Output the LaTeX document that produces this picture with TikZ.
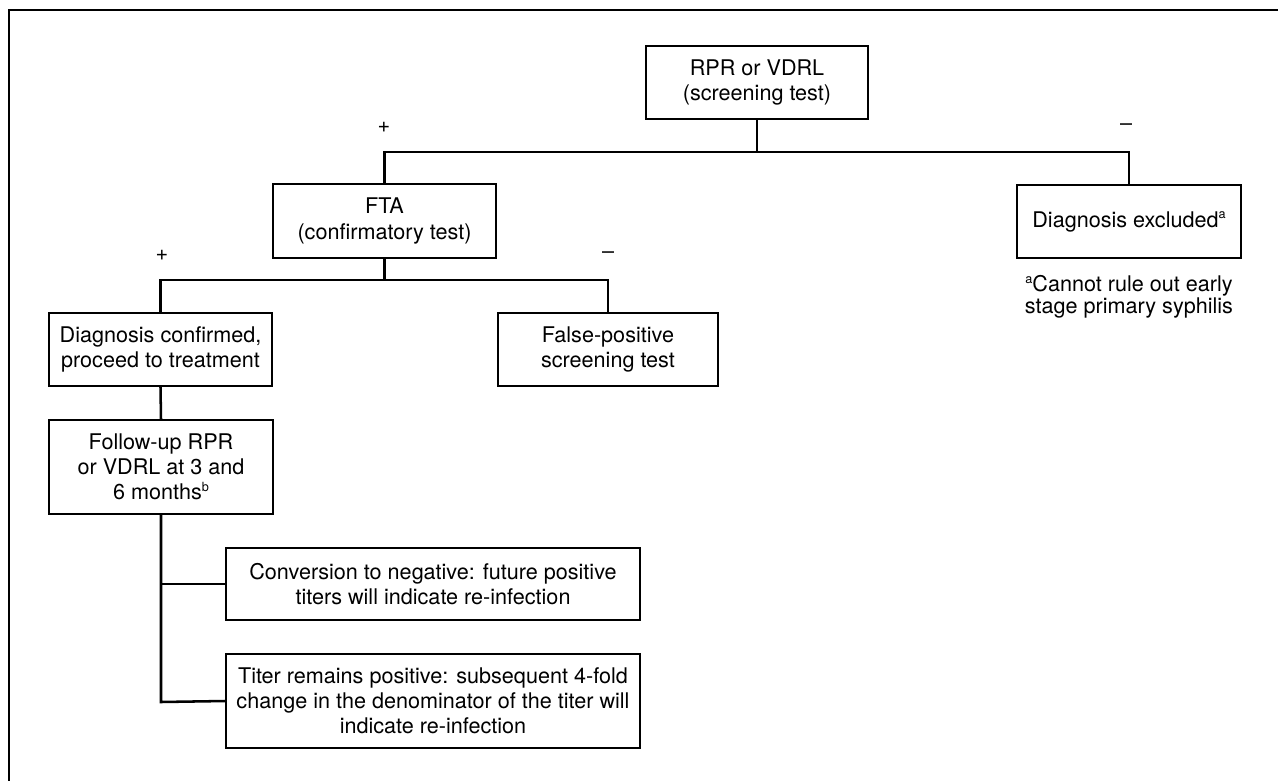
\documentclass[tikz,border=0pt]{standalone}
\usepackage{fontspec}
\setmainfont{TeX Gyre Heros}
\newcommand\mysup[1]{\raisebox{0.38em}{\fontsize{9.5}{9.5}\selectfont #1}}
\begin{document}
\begin{tikzpicture}[x=0.75pt,y=-0.75pt,
  box/.style={draw,line width=0.8pt,inner sep=0pt,align=center,
    font=\fontsize{16.2}{18.8}\selectfont},
  conn/.style={line width=1.9pt},
  sign/.style={font=\fontsize{16.2}{18}\selectfont,inner sep=0pt},
  note/.style={align=center,inner sep=0pt,font=\fontsize{16.2}{16.6}\selectfont}]
\useasboundingbox (0,0) rectangle (1278,781);
\draw[line width=0.9pt] (1278,10) -- (9,10) -- (9,781);

\node[box,minimum width=222*0.75pt,minimum height=73*0.75pt] (top) at (757,82.5) {RPR or VDRL\\(screening test)};
\node[box,minimum width=223*0.75pt,minimum height=74*0.75pt] (fta) at (384.5,221) {FTA\\(confirmatory test)};
\node[box,minimum width=224*0.75pt,minimum height=73*0.75pt] (excl) at (1129,221.5) {Diagnosis excluded\mysup{a}};
\node[note] (fn) at (1129,297) {\mysup{a}Cannot rule out early\\stage primary syphilis};
\node[box,minimum width=223*0.75pt,minimum height=73*0.75pt] (conf) at (160.5,349.5) {Diagnosis confirmed,\\proceed to treatment};
\node[box,minimum width=220*0.75pt,minimum height=73*0.75pt] (fp) at (608,349.5) {False-positive\\screening test};
\node[box,minimum width=224*0.75pt,minimum height=94*0.75pt] (fu) at (161,467) {Follow-up RPR\\or VDRL at 3 and\\6 months\mysup{b}};
\node[box,minimum width=414*0.75pt,minimum height=72*0.75pt] (conv) at (433,584) {Conversion to negative: future positive\\titers will indicate re-infection};
\node[box,minimum width=414*0.75pt,minimum height=94*0.75pt] (titer) at (433,701) {Titer remains positive: subsequent 4-fold\\change in the denominator of the titer will\\indicate re-infection};

\node[sign] (p1) at (384,127) {+};
\node[sign] (m1) at (1126,127) {–};
\node[sign] (p2) at (162,255) {+};
\node[sign] (m2) at (608,255) {–};

\coordinate (j1) at (757,152);
\coordinate (j2) at (384.5,280);
\coordinate (j3) at (161,584);
\coordinate (j4) at (161,702);

\draw[conn] (top.south) -- (j1);
\draw[conn] (fta.north) -- (fta.north |- j1) -- (excl.north |- j1) -- (excl.north);
\draw[conn] (fta.south) -- (j2);
\draw[conn] (conf.north) -- (conf.north |- j2) -- (fp.north |- j2) -- (fp.north);
\draw[conn] (conf.south) -- (fu.north);
\draw[conn] (fu.south) -- (j4) -- (titer.west);
\draw[conn] (j3) -- (conv.west);
\end{tikzpicture}
\end{document}
